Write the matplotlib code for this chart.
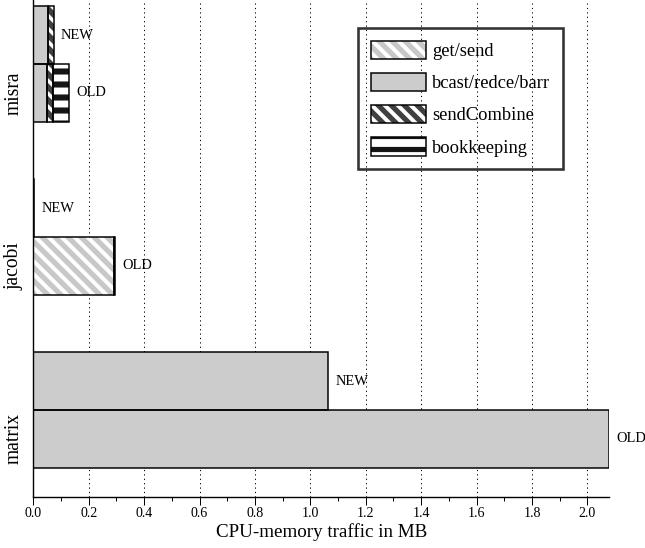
import matplotlib
matplotlib.use("Agg")
import matplotlib.pyplot as plt
import numpy as np
from matplotlib.patches import Patch
from matplotlib.legend_handler import HandlerTuple
from matplotlib.ticker import MultipleLocator, FormatStrFormatter

# ---- data: CPU-memory traffic in MB, one [NEW, OLD] pair per benchmark ----
benchmarks = ["misra", "jacobi", "matrix"]
versions = ["NEW", "OLD"]
components = ["get/send", "bcast/redce/barr", "sendCombine", "bookkeeping"]

get_send = [[0.000, 0.000], [0.000, 0.291], [0.000, 0.000]]
bcast_redce_barr = [[0.052, 0.048], [0.000, 0.000], [1.065, 2.079]]
send_combine = [[0.023, 0.024], [0.000, 0.000], [0.000, 0.000]]
bookkeeping = [[0.000, 0.058], [0.004, 0.004], [0.000, 0.000]]

series = [get_send, bcast_redce_barr, send_combine, bookkeeping]

# ---- styling ----
DPI = 78
PT = 72.0 / DPI  # pixels -> points

plt.rcParams["font.family"] = ["Liberation Serif", "DejaVu Serif"]
plt.rcParams["hatch.linewidth"] = 4.8

styles = [
    dict(face="white", hatch="\\\\", hcolor="#c8c8c8", hlw=4.8),  # get/send
    dict(face="#cccccc", hatch=None, hcolor="#cccccc", hlw=4.8),  # bcast/redce/barr
    dict(face="white", hatch="\\\\", hcolor="#404040", hlw=5.2),  # sendCombine
    dict(face="white", hatch="-", hcolor="#151515", hlw=5.6),     # bookkeeping
]
EDGE_LW = 1.5 * PT


def hatched(patch, hlw):
    if hasattr(patch, "set_hatch_linewidth"):
        patch.set_hatch_linewidth(hlw)


fig = plt.figure(figsize=(645 / DPI, 548 / DPI), dpi=DPI)
ax = fig.add_axes([33.3 / 645, 51 / 548, 576 / 645, 497 / 548])

bar_h = 0.3324
group_pos = np.arange(len(benchmarks), dtype=float)
# NEW sits above the group position, OLD below (y axis inverted)
offsets = [-bar_h / 2, bar_h / 2]

totals = np.zeros((len(benchmarks), len(versions)))
for comp, data, st in zip(components, series, styles):
    vals = np.array(data)
    for vi in range(len(versions)):
        ys = group_pos + offsets[vi]
        widths = vals[:, vi]
        lefts = totals[:, vi]
        keep = widths > 0
        if keep.any():
            with plt.rc_context({"hatch.linewidth": st["hlw"]}):
                fill = ax.barh(ys[keep], widths[keep], left=lefts[keep], height=bar_h,
                               color=st["face"], edgecolor=st["hcolor"], hatch=st["hatch"],
                               linewidth=0, zorder=2)
            for p in fill:
                hatched(p, st["hlw"])
            ax.barh(ys[keep], widths[keep], left=lefts[keep], height=bar_h,
                    fill=False, edgecolor="black", linewidth=EDGE_LW, zorder=3)
        totals[:, vi] += widths

# version labels at the end of each bar
for gi in range(len(benchmarks)):
    for vi, ver in enumerate(versions):
        ax.annotate(ver, xy=(totals[gi, vi], group_pos[gi] + offsets[vi]),
                    xytext=(7 * PT, 0), textcoords="offset points",
                    ha="left", va="center", fontsize=14.5 * PT,
                    annotation_clip=False, zorder=4)

# ---- axes ----
ax.set_xlim(0, totals.max())
ax.set_ylim(2 + 87 / 173, -64 / 173)

ax.xaxis.set_major_locator(MultipleLocator(0.2))
ax.xaxis.set_minor_locator(MultipleLocator(0.1))
ax.xaxis.set_major_formatter(FormatStrFormatter("%.1f"))
ax.tick_params(axis="x", which="major", direction="out", length=8 * PT,
               width=1.0 * PT, pad=2 * PT, labelsize=14 * PT)
ax.tick_params(axis="x", which="minor", direction="out", length=3.5 * PT, width=1.0 * PT)

ax.set_yticks(group_pos + offsets[1])
ax.set_yticklabels(benchmarks, rotation=90, va="center", fontsize=19.5 * PT)
ax.tick_params(axis="y", length=0, pad=10 * PT)

for side in ("top", "right"):
    ax.spines[side].set_visible(False)
for side in ("left", "bottom"):
    ax.spines[side].set_linewidth(1.4 * PT)
    ax.spines[side].set_zorder(5)

ax.xaxis.grid(True, which="major", linestyle=(0, (1.2, 3.2)), color="black",
              linewidth=1.0 * PT, zorder=0)
ax.set_axisbelow(True)

ax.set_xlabel("CPU-memory traffic in MB", fontsize=19 * PT, labelpad=3 * PT)

# ---- legend ----
handles = []
for st in styles:
    front = Patch(facecolor=st["face"], edgecolor=st["hcolor"], hatch=st["hatch"], linewidth=0)
    hatched(front, st["hlw"])
    outline = Patch(fill=False, edgecolor="black", linewidth=EDGE_LW)
    handles.append((front, outline))

leg = ax.legend(handles, components, handler_map={tuple: HandlerTuple(ndivide=1, pad=0)},
                loc="upper left", bbox_to_anchor=((358 - 33.3) / 576, 1 - 28 / 497),
                borderaxespad=0, fontsize=18.5 * PT, handlelength=3.0, handleheight=1.15,
                handletextpad=0.32, labelspacing=0.69, borderpad=0.68,
                fancybox=False, frameon=True)
frame = leg.get_frame()
frame.set_facecolor("none")
frame.set_edgecolor("black")
frame.set_linewidth(2.6 * PT)

fig.savefig("out.png", dpi=DPI)
